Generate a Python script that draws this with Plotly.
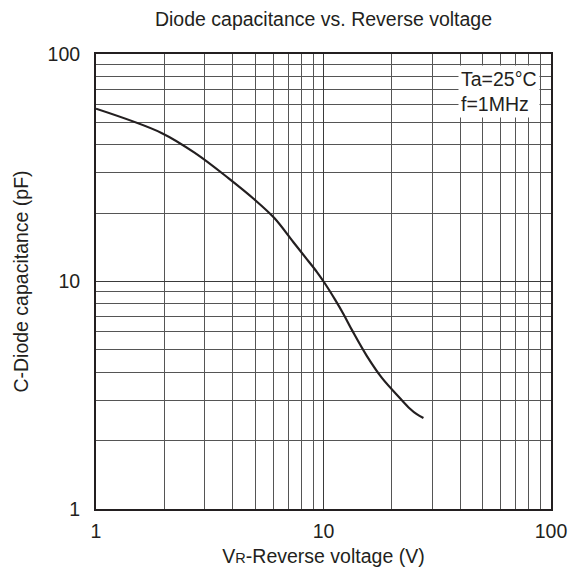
import plotly.graph_objects as go

# Data
vr_volts = [1.0, 1.94, 2.76, 3.83, 4.93, 6.08, 7.27, 8.46, 9.36, 10.18, 11.26,
            12.25, 13.42, 15.52, 18.06, 21.7, 24.0, 25.7, 27.5]
cap_pf = [57.5, 45.0, 36.4, 28.4, 23.1, 19.0, 15.16, 12.51, 11.0, 9.75, 8.3,
          7.18, 6.05, 4.70, 3.77, 3.07, 2.76, 2.61, 2.51]

x_tickvals = [1, 10, 100]
x_ticktext = ["1", "10", "100"]
y_tickvals = [1, 10, 100]
y_ticktext = ["1", "10", "100"]
minor_vals = [2, 3, 4, 5, 6, 7, 8, 9, 20, 30, 40, 50, 60, 70, 80, 90]

INK = "#231f20"
FONT = "Liberation Sans, Arial, sans-serif"
FS = 19.5

fig = go.Figure()
fig.add_trace(go.Scatter(
    x=vr_volts, y=cap_pf, mode="lines",
    line=dict(color=INK, width=2.2, shape="spline", smoothing=1.0),
    hoverinfo="skip", showlegend=False,
))

axis_common = dict(
    type="log", range=[0, 2], automargin=False,
    showgrid=True, gridcolor="#3a3a3a", gridwidth=1,
    showline=True, linecolor=INK, linewidth=2, mirror=True,
    ticks="", zeroline=False, ticklabeloverflow="allow",
    tickfont=dict(family=FONT, size=FS, color=INK),
    minor=dict(tickvals=minor_vals, showgrid=True, gridcolor="#555555",
               gridwidth=1, ticks=""),
)

fig.update_xaxes(**axis_common, tickvals=x_tickvals, ticktext=x_ticktext,
                 ticklabelstandoff=4,
                 title=dict(text="V<span style='font-size:14.5px'>R</span>-Reverse voltage (V)",
                            font=dict(family=FONT, size=FS, color=INK), standoff=8))
fig.update_yaxes(**axis_common, tickvals=y_tickvals, ticktext=y_ticktext,
                 ticklabelstandoff=10,
                 title=dict(text="C-Diode capacitance (pF)",
                            font=dict(family=FONT, size=FS, color=INK), standoff=14))

fig.add_annotation(
    xref="paper", yref="paper", x=0.976, y=0.975, xanchor="right", yanchor="top",
    text="Ta=25°C<br>f=1MHz", align="left", showarrow=False,
    bgcolor="white", borderpad=2,
    font=dict(family=FONT, size=FS, color=INK),
)

fig.update_layout(
    width=570, height=576,
    margin=dict(l=95.5, r=19, t=53.5, b=67),
    paper_bgcolor="white", plot_bgcolor="white",
    title=dict(text="Diode capacitance vs. Reverse voltage",
               font=dict(family=FONT, size=FS, color=INK),
               x=0.5, xref="paper", xanchor="center",
               y=1 - 19 / 576, yref="container", yanchor="middle"),
)

fig.write_html("out.html",
               config={"displayModeBar": False, "staticPlot": True},
               post_script="document.body.style.margin='0';document.body.style.overflow='hidden';")
